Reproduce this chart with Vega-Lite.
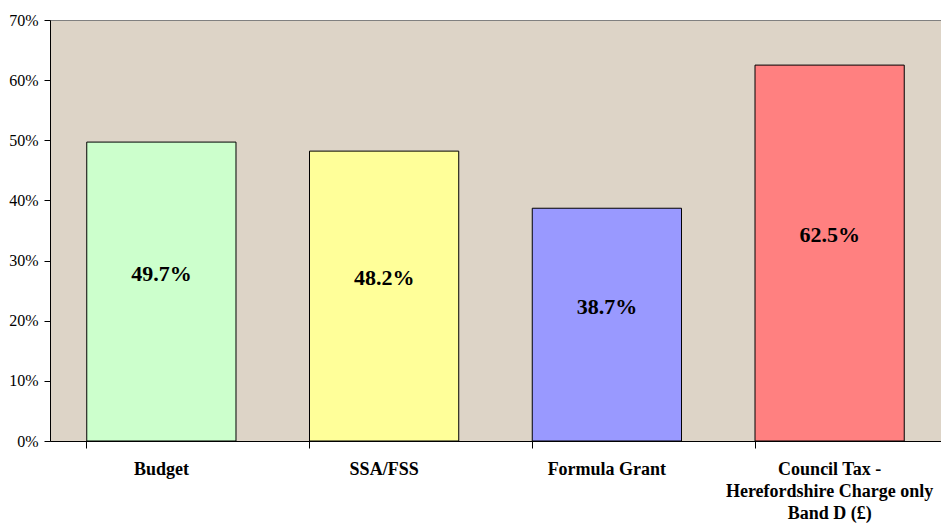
{
  "$schema": "https://vega.github.io/schema/vega-lite/v6.json",
  "width": 891,
  "height": 421,
  "autosize": {"type": "none"},
  "padding": {"left": 50, "top": 20, "right": 0, "bottom": 86},
  "background": "white",
  "config": {
    "view": {"fill": "#DDD4C7", "stroke": "#808080", "strokeWidth": 1},
    "font": "Liberation Serif"
  },
  "data": {
    "values": [
      {"cat": "Budget", "v": 0.497, "c": "#CCFFCC"},
      {"cat": "SSA/FSS", "v": 0.482, "c": "#FFFF99"},
      {"cat": "Formula Grant", "v": 0.387, "c": "#9999FF"},
      {"cat": "Council Tax -|Herefordshire Charge only|Band D (£)", "v": 0.625, "c": "#FF8080"}
    ]
  },
  "encoding": {
    "x": {
      "field": "cat", "type": "nominal", "sort": null,
      "scale": {"paddingInner": 0.33, "paddingOuter": 0.165},
      "axis": {
        "title": null, "labelAngle": 0, "bandPosition": 0,
        "labelExpr": "split(datum.label, '|')",
        "labelFont": "Liberation Serif", "labelFontSize": 18, "labelFontWeight": "bold",
        "labelColor": "black", "labelPadding": 12, "labelLineHeight": 22,
        "tickColor": "black", "tickSize": 7, "domainColor": "black", "labelLimit": 300
      }
    }
  },
  "resolve": {"scale": {"y": "independent"}},
  "layer": [
    {
      "mark": {"type": "bar", "stroke": "black", "strokeWidth": 1},
      "encoding": {
        "y": {
          "field": "v", "type": "quantitative",
          "scale": {"domain": [0, 0.7]},
          "axis": {
            "title": null, "format": ".0%", "values": [0, 0.1, 0.2, 0.3, 0.4, 0.5, 0.6, 0.7],
            "grid": false, "labelFont": "Liberation Serif", "labelFontSize": 16,
            "labelColor": "black", "tickColor": "black", "tickSize": 6, "labelPadding": 6,
            "domainColor": "black"
          }
        },
        "fill": {"field": "c", "type": "nominal", "scale": null}
      }
    },
    {
      "mark": {"type": "text", "font": "Liberation Serif", "fontSize": 22, "fontWeight": "bold", "baseline": "middle", "dy": -18, "color": "black"},
      "encoding": {
        "y": {"field": "v", "type": "quantitative", "scale": {"domain": [0, 1.4]}, "axis": null},
        "text": {"field": "v", "type": "quantitative", "format": ".1%"}
      }
    }
  ]
}
